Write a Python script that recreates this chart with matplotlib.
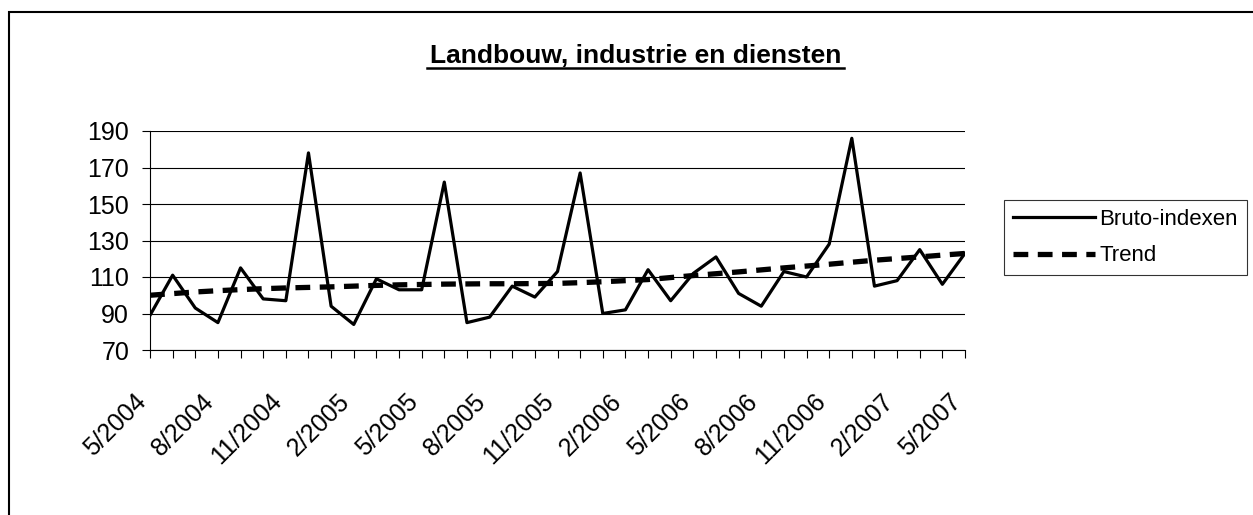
import matplotlib.pyplot as plt
from matplotlib.patches import Rectangle
from matplotlib.transforms import ScaledTranslation

plt.rcParams['font.family'] = ['Liberation Sans', 'DejaVu Sans']

# monthly values 5/2004 .. 5/2007
months = [f"{(4 + i) % 12 + 1}/{2004 + (4 + i) // 12}" for i in range(37)]
bruto = [89, 111, 93, 85, 115, 98, 97, 178, 94, 84, 109, 103, 103, 162, 85, 88,
         105, 99, 113, 167, 90, 92, 114, 97, 112, 121, 101, 94, 113, 110, 128,
         186, 105, 108, 125, 106, 123]
trend = [100.0, 100.9, 101.8, 102.5, 103.1, 103.6, 104.0, 104.3, 104.6, 105.0,
         105.4, 105.7, 105.9, 106.1, 106.2, 106.3, 106.3, 106.4, 106.5, 106.9,
         107.4, 108.0, 108.6, 109.7, 110.8, 111.8, 112.8, 113.9, 115.0, 116.0,
         117.0, 118.1, 119.2, 120.1, 121.0, 122.0, 122.9]
yticks = [70, 90, 110, 130, 150, 170, 190]

fig = plt.figure(figsize=(12.53, 5.15), dpi=100)
ax = fig.add_axes([150 / 1253, 1 - 350 / 515, 815 / 1253, 219 / 515])

x = list(range(len(months)))
ax.plot(x, bruto, color='black', lw=2.3, label='Bruto-indexen', zorder=3)
ax.plot(x, trend, color='black', lw=3.8, dashes=(2.8, 1.8), label='Trend', zorder=2)

ax.set_xlim(0, len(months) - 1)
ax.set_ylim(70, 190)
ax.set_yticks(yticks)
ax.yaxis.grid(True, color='black', lw=0.8)
ax.set_axisbelow(True)
for s in ['top', 'right']:
    ax.spines[s].set_visible(False)
ax.spines['left'].set_linewidth(0.8)
ax.spines['bottom'].set_linewidth(0.8)

# tick every month, label every third month
ax.set_xticks(x)
ax.set_xticklabels([m if i % 3 == 0 else '' for i, m in enumerate(months)],
                   rotation=45, ha='right', va='top', rotation_mode='anchor', fontsize=18)
ax.tick_params(axis='x', length=6, width=0.8, pad=22)
ax.tick_params(axis='y', length=6, width=0.8, labelsize=18, pad=9)
shift = ScaledTranslation(-16 / 100, 0, fig.dpi_scale_trans)
for lab in ax.get_xticklabels():
    lab.set_transform(lab.get_transform() + shift)

fig.text(636 / 1253, 1 - 56 / 515, 'Landbouw, industrie en diensten', fontsize=19,
         fontweight='bold', ha='center', va='center')
# underline of title
fig.add_artist(plt.Line2D([427 / 1253, 844 / 1253], [1 - 68 / 515, 1 - 68 / 515],
                          color='black', lw=1.8))

leg = fig.legend(loc='upper left', bbox_to_anchor=(1004 / 1253, 1 - 200 / 515),
                 fontsize=16, frameon=True, fancybox=False, edgecolor='black',
                 handlelength=3.7, handletextpad=0.2, borderpad=0.4, labelspacing=0.7,
                 borderaxespad=0)
leg.get_frame().set_linewidth(0.8)

# chart border (right and bottom edges fall outside the picture)
fig.add_artist(Rectangle((9 / 1253, -0.1), 1.2, 1 - 12 / 515 + 0.1,
                         transform=fig.transFigure, fill=False, edgecolor='black', lw=1.5))

fig.savefig('out.png', dpi=100)
